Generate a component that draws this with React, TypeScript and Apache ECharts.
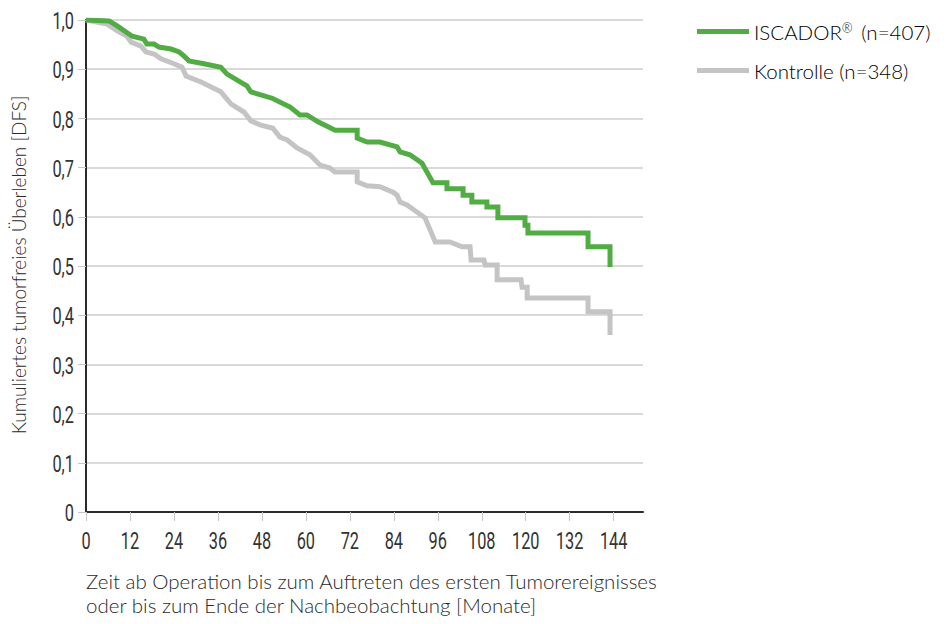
import React, { useEffect, useRef } from "react";
import * as echarts from "echarts";

const xTicks = [0, 12, 24, 36, 48, 60, 72, 84, 96, 108, 120, 132, 144];
const yTicks = [0, 0.1, 0.2, 0.3, 0.4, 0.5, 0.6, 0.7, 0.8, 0.9, 1.0];

const seriesNames = ["ISCADOR® (n=407)", "Kontrolle (n=348)"];

const iscadorMonths = [
  0, 6.3, 8.5, 12.6, 15.8, 16.6, 18.6, 19.9, 23.2, 25.4, 26.7, 28.1, 32.2, 36.8, 38.5, 43.9, 45.0,
  50.8, 55.7, 58.4, 60.3, 63.3, 68.0, 74.0, 74.0, 76.7, 80.2, 84.9, 85.7, 88.4, 91.7, 94.7, 98.5,
  98.5, 102.9, 102.9, 105.3, 105.3, 109.4, 109.4, 112.4, 112.4, 119.8, 119.8, 120.6, 120.6, 137.0,
  137.0, 143.0, 143.0,
];
const iscadorSurvival = [
  1.0, 0.998, 0.988, 0.967, 0.961, 0.951, 0.951, 0.945, 0.941, 0.935, 0.927, 0.917, 0.911, 0.904,
  0.89, 0.866, 0.854, 0.841, 0.823, 0.807, 0.807, 0.793, 0.776, 0.776, 0.76, 0.752, 0.752, 0.742,
  0.732, 0.726, 0.709, 0.669, 0.669, 0.657, 0.657, 0.644, 0.644, 0.63, 0.63, 0.62, 0.62, 0.598,
  0.598, 0.583, 0.583, 0.567, 0.567, 0.539, 0.539, 0.498,
];

const kontrolleMonths = [
  0, 5.7, 8.5, 11.2, 12.3, 15.0, 16.4, 18.6, 20.5, 24.0, 26.2, 27.3, 31.4, 36.8, 39.6, 43.1, 45.0,
  47.5, 51.0, 52.9, 54.9, 57.6, 61.1, 63.9, 66.6, 67.9, 74.0, 74.0, 76.7, 80.2, 83.8, 84.9, 85.7,
  87.6, 92.5, 95.3, 99.3, 102.6, 104.8, 105.1, 108.6, 108.9, 112.2, 112.2, 118.7, 119.0, 120.4,
  120.4, 137.0, 137.0, 143.0, 143.0,
];
const kontrolleSurvival = [
  1.0, 0.992, 0.978, 0.967, 0.955, 0.947, 0.935, 0.931, 0.921, 0.911, 0.904, 0.886, 0.874, 0.854,
  0.829, 0.813, 0.795, 0.787, 0.78, 0.762, 0.756, 0.74, 0.726, 0.705, 0.699, 0.691, 0.691, 0.671,
  0.663, 0.661, 0.65, 0.644, 0.63, 0.624, 0.598, 0.549, 0.549, 0.539, 0.539, 0.512, 0.512, 0.502,
  0.502, 0.472, 0.472, 0.457, 0.457, 0.435, 0.435, 0.407, 0.407, 0.36,
];

const yAxisTitle = "Kumuliertes tumorfreies Überleben [DFS]";
const xAxisTitle = [
  "Zeit ab Operation bis zum Auftreten des ersten Tumorereignisses",
  "oder bis zum Ende der Nachbeobachtung [Monate]",
];

const GREEN = "#52ac44";
const GRAY = "#c4c4c4";
const NUM_FONT = "Roboto";
const TEXT_FONT = "Lato, 'Open Sans', sans-serif";

function pairs(xs: number[], ys: number[]) {
  return xs.map((x, i) => [x, ys[i]]);
}

function yLabel(v: number) {
  const r = Math.round(v * 10) / 10;
  return r === 0 ? "0" : r.toFixed(1).replace(".", ",");
}

export default function App() {
  const ref = useRef<HTMLDivElement>(null);
  useEffect(() => {
    document.body.style.margin = "0";
    const chart = echarts.init(ref.current!, null, { renderer: "svg" });
    const baseGraphics: any[] = [
      {
        type: "text",
        id: "ytitle",
        x: 18,
        y: 265,
        rotation: Math.PI / 2,
        style: {
          text: yAxisTitle,
          fontFamily: TEXT_FONT,
          fontWeight: 300,
          fontSize: 19,
          fill: "#2a2a2a",
          align: "center",
          verticalAlign: "middle",
        },
      },
      {
        type: "text",
        id: "xtitle",
        x: 86,
        y: 569,
        style: {
          text: xAxisTitle.join("\n"),
          fontFamily: TEXT_FONT,
          fontWeight: 300,
          fontSize: 20.5,
          lineHeight: 24,
          fill: "#2a2a2a",
          align: "left",
          verticalAlign: "top",
        },
      },
    ];
    chart.setOption({
      animation: false,
      backgroundColor: "#ffffff",
      grid: { left: 86, right: 306, top: 20, bottom: 112, containLabel: false, outerBoundsMode: "none" },
      legend: {
        orient: "vertical",
        left: 692,
        top: 16,
        itemWidth: 52,
        itemHeight: 5,
        itemGap: 18,
        icon: "rect",
        data: seriesNames,
        formatter: (name: string) => name.replace("®", "{sup|®}"),
        textStyle: {
          fontFamily: TEXT_FONT,
          fontSize: 20.5,
          fontWeight: 300,
          color: "#000000",
          rich: {
            sup: { fontSize: 13, fontWeight: 300, fontFamily: TEXT_FONT, color: "#000000", verticalAlign: "top", padding: [0, 3, 8, 0] },
          },
        },
      },
      xAxis: {
        type: "value",
        min: 0,
        max: 152,
        interval: 12,
        axisLine: { show: true, lineStyle: { color: "#2a2a2a", width: 2 } },
        axisTick: { show: true, length: 9, lineStyle: { color: "#c8c8c8", width: 1 }, customValues: xTicks },
        axisLabel: { show: false },
        splitLine: { show: false },
      },
      yAxis: {
        type: "value",
        min: 0,
        max: 1,
        interval: 0.1,
        axisLine: { show: true, lineStyle: { color: "#2a2a2a", width: 2 } },
        axisTick: { show: true, length: 8, lineStyle: { color: "#c8c8c8", width: 1 } },
        axisLabel: { show: false },
        splitLine: { show: true, lineStyle: { color: "#cccccc", width: 1.5 } },
      },
      graphic: baseGraphics,
      series: [
        {
          name: seriesNames[1],
          type: "line",
          data: pairs(kontrolleMonths, kontrolleSurvival),
          showSymbol: false,
          symbol: "none",
          lineStyle: { color: GRAY, width: 5, cap: "butt", join: "miter" },
          itemStyle: { color: GRAY },
          z: 2,
        },
        {
          name: seriesNames[0],
          type: "line",
          data: pairs(iscadorMonths, iscadorSurvival),
          showSymbol: false,
          symbol: "none",
          lineStyle: { color: GREEN, width: 5, cap: "butt", join: "miter" },
          itemStyle: { color: GREEN },
          z: 3,
        },
      ],
    });

    // Tick labels in a condensed face, positioned through the chart's own axis scales.
    const numStyle = { fontFamily: NUM_FONT, fontSize: 24, fontWeight: 400, fill: "#333333" };
    const origin = chart.convertToPixel({ gridIndex: 0 }, [0, 0]) as number[];
    const xLabels = xTicks.map((v, i) => {
      const p = chart.convertToPixel({ gridIndex: 0 }, [v, 0]) as number[];
      return {
        type: "text",
        id: "xl" + i,
        x: p[0],
        y: p[1] + 29,
        scaleX: 0.68,
        style: { ...numStyle, text: String(v), align: "center", verticalAlign: "middle" },
      };
    });
    const yLabels = yTicks.map((v, i) => {
      const p = chart.convertToPixel({ gridIndex: 0 }, [0, v]) as number[];
      return {
        type: "text",
        id: "yl" + i,
        x: origin[0] - 12,
        y: p[1] + 1,
        scaleX: 0.68,
        style: { ...numStyle, text: yLabel(v), align: "right", verticalAlign: "middle" },
      };
    });
    chart.setOption({ graphic: [...baseGraphics, ...xLabels, ...yLabels] });

    return () => chart.dispose();
  }, []);
  return <div ref={ref} style={{ width: 949, height: 624 }} />;
}
